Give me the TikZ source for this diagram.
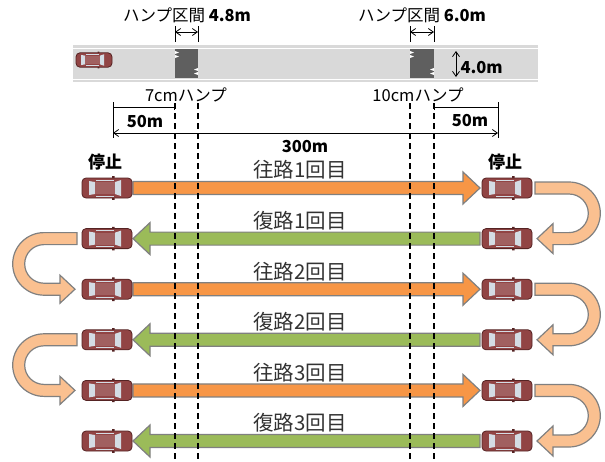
\documentclass[tikz,border=0pt]{standalone}
\usepackage{fontspec}
\newfontfamily\jp{Noto Sans CJK JP}
\usetikzlibrary{arrows.meta}
\definecolor{road}{RGB}{217, 217, 217}
\definecolor{hump}{RGB}{95, 95, 95}
\definecolor{outward}{RGB}{247, 150, 70}
\definecolor{homeward}{RGB}{155, 187, 89}
\definecolor{turn}{RGB}{250, 192, 144}
\definecolor{edge}{RGB}{128, 128, 128}
\definecolor{carbody}{RGB}{145, 68, 68}
\definecolor{carline}{RGB}{85, 35, 35}
\definecolor{glass}{RGB}{212, 220, 228}

\tikzset{
  car/.pic={
    \draw [fill=carbody, draw=carline, line width=0.8, rounded corners=4] (-25, -10) rectangle (25, 10);
    \fill [glass] (-18, -7) -- (-12, -6) -- (-12, 6) -- (-18, 7) -- cycle;
    \fill [glass] (8, -6) -- (14, -8) -- (14, 8) -- (8, 6) -- cycle;
    \fill [carbody!85!white] (-12, -6) rectangle (8, 6);
    \draw [glass, line width=0.8] (-11, -8) -- (7, -8) (-11, 8) -- (7, 8);
    \fill [carline] (5, -10) rectangle +(2.5, -1.8) (5, 10) rectangle +(2.5, 1.8);
  },
  goarrow/.style={fill=outward, draw=edge, line width=1.2},
  backarrow/.style={fill=homeward, draw=edge, line width=1.2},
  turnarrow/.style={fill=turn, draw=edge, line width=1.2},
  guide/.style={line width=1.4, dash pattern=on 6 off 4},
  dim/.style={line width=0.8, >={Straight Barb[length=5pt, width=7pt]}}
}
\newcommand\lbl{\jp\fontsize{16.5}{19}\selectfont}
\newcommand\rowlbl{\jp\fontsize{20.5}{24}\selectfont\color{black!80}}
% straight arrows: out to the right, back to the left
\newcommand\goright[1]{\draw [goarrow] (133, #1-6.5) -- (463, #1-6.5) -- (463, #1-16) -- (480, #1) -- (463, #1+16) -- (463, #1+6.5) -- (133, #1+6.5) -- cycle;}
\newcommand\goleft[1]{\draw [backarrow] (480, #1-6.5) -- (150, #1-6.5) -- (150, #1-16) -- (133, #1) -- (150, #1+16) -- (150, #1+6.5) -- (480, #1+6.5) -- cycle;}
% u-turns between two rows
\newcommand\uright[2]{\pgfmathsetmacro\ro{(#2-#1)/2+6}\pgfmathsetmacro\ri{(#2-#1)/2-6}%
  \draw [turnarrow] (535, #1-6) -- (569, #1-6) arc [start angle=-90, end angle=90, radius=\ro] -- (553, #2+6) -- (553, #2+15) -- (537, #2) -- (553, #2-15) -- (553, #2-6) -- (569, #2-6) arc [start angle=90, end angle=-90, radius=\ri] -- (535, #1+6) -- cycle;}
\newcommand\uleft[2]{\pgfmathsetmacro\ro{(#2-#1)/2+6}\pgfmathsetmacro\ri{(#2-#1)/2-6}%
  \draw [turnarrow] (77, #1-6) -- (44, #1-6) arc [start angle=-90, end angle=-270, radius=\ro] -- (60, #2+6) -- (60, #2+14) -- (75, #2) -- (60, #2-14) -- (60, #2-6) -- (44, #2-6) arc [start angle=90, end angle=270, radius=\ri] -- (77, #1+6) -- cycle;}
\newcommand\hump[2]{\fill [hump] (#1, 49) rectangle (#1+#2, 78);
  \fill [white] (#1, 51) -- (#1+4, 52.5) -- (#1, 54) -- cycle (#1, 55) -- (#1+4, 56.5) -- (#1, 58) -- cycle;
  \fill [white] (#1+#2, 68) -- (#1+#2-4, 69.5) -- (#1+#2, 71) -- cycle (#1+#2, 72) -- (#1+#2-4, 73.5) -- (#1+#2, 75) -- cycle;}

\begin{document}
\begin{tikzpicture}[x=1pt, y=-1pt]
\useasboundingbox (0, 0) rectangle (605, 461);
% road seen from above
\fill [road] (73, 45) rectangle (538, 82);
\draw [white, line width=1] (73, 48) -- (538, 48) (73, 79) -- (538, 79);
\hump{175}{23}
\hump{410}{24}
\pic [scale=0.72] at (94, 60) {car};
\node (span7) at (187, 15) {\lbl ハンプ区間 \textbf{4.8m}};
\node (span10) at (422, 15) {\lbl ハンプ区間 \textbf{6.0m}};
\draw [dim] (175, 26) -- (175, 42) (198, 26) -- (198, 42) (410, 26) -- (410, 42) (434, 26) -- (434, 42);
\draw [dim, <->] (175, 32) -- (198, 32);
\draw [dim, <->] (410, 32) -- (434, 32);
\draw [dim, <->] (456, 51) -- (456, 77);
\node [anchor=west] (width) at (457, 68) {\lbl\bfseries 4.0m};
\node (hump7) at (186, 95) {\lbl 7cmハンプ};
\node (hump10) at (418, 95) {\lbl 10cmハンプ};
% distances
\coordinate (start) at (113, 133);
\coordinate (stop) at (498, 133);
\draw [dim] (113, 102) -- (113, 138) (498, 102) -- (498, 138);
\draw [dim, -|] (113, 107) -- (175, 107);
\draw [dim, |-] (434, 107) -- (498, 107);
\node (fifty1) at (145, 122) {\lbl\bfseries 50m};
\node (fifty2) at (470, 121) {\lbl\bfseries 50m};
\draw [dim, <->] (start) -- (stop);
\node (total) at (305, 147) {\lbl\bfseries 300m};
\node (stopL) at (105, 162) {\jp\fontsize{17}{19}\selectfont\bfseries 停止};
\node (stopR) at (505, 162) {\jp\fontsize{17}{19}\selectfont\bfseries 停止};
% runs
\goright{188}
\goleft{238.6}
\goright{289.2}
\goleft{339.8}
\goright{390.4}
\goleft{441}
\uright{188}{238.6}
\uright{289.2}{339.8}
\uright{390.4}{441}
\uleft{238.6}{289.2}
\uleft{339.8}{390.4}
\node (run1) at (300, 170) {\rowlbl 往路1回目};
\node (run2) at (300, 220.6) {\rowlbl 復路1回目};
\node (run3) at (300, 271.2) {\rowlbl 往路2回目};
\node (run4) at (300, 321.8) {\rowlbl 復路2回目};
\node (run5) at (300, 372.4) {\rowlbl 往路3回目};
\node (run6) at (300, 423) {\rowlbl 復路3回目};
\foreach \y in {188, 238.6, 289.2, 339.8, 390.4, 441} {
  \pic at (107, \y) {car};
  \pic at (507, \y) {car};
}
\draw [guide] (175, 103) -- (175, 461) (198, 103) -- (198, 461);
\draw [guide] (410, 103) -- (410, 461) (434, 103) -- (434, 461);
\end{tikzpicture}
\end{document}
